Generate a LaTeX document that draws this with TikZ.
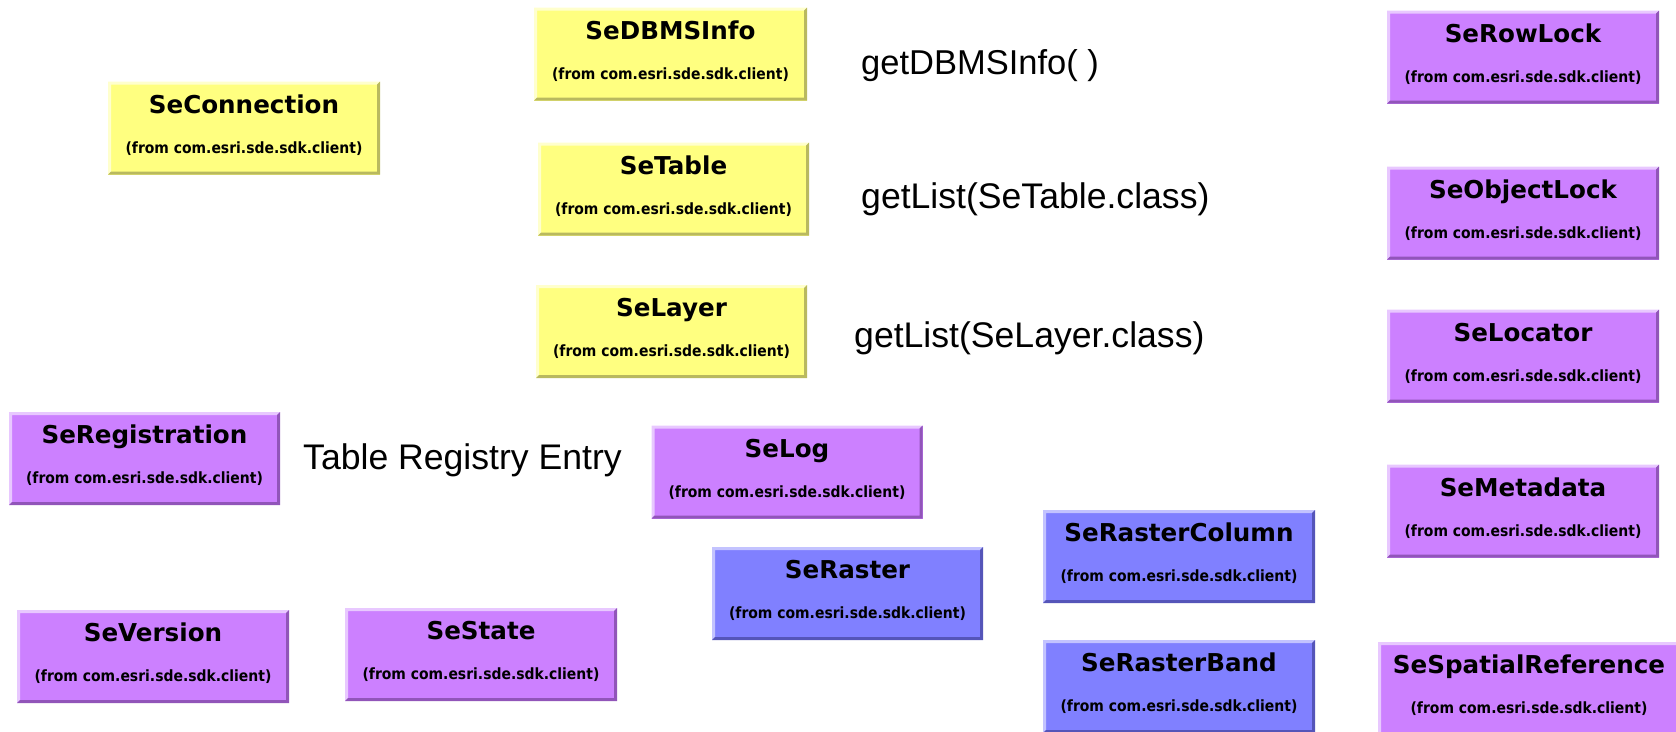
\documentclass[tikz,border=0pt]{standalone}
\usepackage{fontspec}
\setmainfont{DejaVu Sans}
\newfontfamily\clsfont{DejaVu Sans}
\newfontfamily\pkgfont{DejaVu Sans Condensed}
\newfontfamily\lblfont{Liberation Sans}

\definecolor{clsyellow}{RGB}{255,255,128}
\definecolor{clsyellowL}{RGB}{255,255,205}
\definecolor{clsyellowD}{RGB}{185,185,95}
\definecolor{clspurple}{RGB}{204,128,255}
\definecolor{clspurpleL}{RGB}{232,200,255}
\definecolor{clspurpleD}{RGB}{145,85,185}
\definecolor{clsblue}{RGB}{128,128,255}
\definecolor{clsblueL}{RGB}{195,195,255}
\definecolor{clsblueD}{RGB}{85,85,185}

\tikzset{
  bevel light/.store in=\bevlight,
  bevel dark/.store in=\bevdark,
  classbox/.style={
    rectangle, inner sep=0pt, minimum width=272pt, minimum height=93pt,
    path picture={
      \fill[fill=\bevlight]
        (path picture bounding box.south west) -- (path picture bounding box.north west)
        -- (path picture bounding box.north east)
        -- ([xshift=-3pt,yshift=-3pt]path picture bounding box.north east)
        -- ([xshift=3pt,yshift=-3pt]path picture bounding box.north west)
        -- ([xshift=3pt,yshift=3pt]path picture bounding box.south west) -- cycle;
      \fill[fill=\bevdark]
        (path picture bounding box.south west) -- (path picture bounding box.south east)
        -- (path picture bounding box.north east)
        -- ([xshift=-3pt,yshift=-3pt]path picture bounding box.north east)
        -- ([xshift=-3pt,yshift=3pt]path picture bounding box.south east)
        -- ([xshift=3pt,yshift=3pt]path picture bounding box.south west) -- cycle;
    }},
  yellowcls/.style={classbox, fill=clsyellow, bevel light=clsyellowL, bevel dark=clsyellowD},
  purplecls/.style={classbox, fill=clspurple, bevel light=clspurpleL, bevel dark=clspurpleD},
  bluecls/.style={classbox, fill=clsblue, bevel light=clsblueL, bevel dark=clsblueD},
  clstitle/.style={anchor=base, inner sep=0pt, font=\clsfont\bfseries\fontsize{24.6}{28}\selectfont},
  clspkg/.style={anchor=base, inner sep=0pt, font=\pkgfont\bfseries\fontsize{15.5}{18}\selectfont},
  calllabel/.style={anchor=base west, inner sep=0pt, font=\lblfont\fontsize{34.5}{40}\selectfont},
  widelabel/.style={calllabel, font=\lblfont\fontsize{35.6}{40}\selectfont},
}

% class box: name, centre x, centre y, width, style, class name
\newcommand\classbox[6]{%
  \node[#5, minimum width=#4pt] (#1) at (#2,#3) {};
  \node[clstitle] (#1-name) at ([yshift=-32pt]#1.north) {#6};
  \node[clspkg] (#1-pkg) at ([yshift=-72pt]#1.north) {(from com.esri.sde.sdk.client)};
}

\begin{document}
\begin{tikzpicture}[x=1pt,y=-1pt]
\path[use as bounding box] (0,0) rectangle (1676,731);
\clip (0,0) rectangle (1676,731);

% yellow classes
\classbox{conn}{244}{128}{272}{yellowcls}{SeConnection}
\classbox{dbms}{670.5}{54}{273}{yellowcls}{SeDBMSInfo}
\classbox{table}{673.5}{189}{271}{yellowcls}{SeTable}
\classbox{layer}{671.5}{331.5}{271}{yellowcls}{SeLayer}

% purple classes
\classbox{reg}{144.5}{458.5}{271}{purplecls}{SeRegistration}
\classbox{log}{787}{472}{271}{purplecls}{SeLog}
\classbox{version}{153}{656.5}{272}{purplecls}{SeVersion}
\classbox{state}{481}{654.5}{272}{purplecls}{SeState}
\classbox{rowlock}{1523}{57}{272}{purplecls}{SeRowLock}
\classbox{objlock}{1523}{213}{272}{purplecls}{SeObjectLock}
\classbox{locator}{1523}{356}{272}{purplecls}{SeLocator}
\classbox{metadata}{1523}{511}{272}{purplecls}{SeMetadata}
\classbox{spatial}{1529}{688.5}{302}{purplecls}{SeSpatialReference}

% blue classes
\classbox{raster}{847.5}{593.5}{271}{bluecls}{SeRaster}
\classbox{rcol}{1179}{556.5}{272}{bluecls}{SeRasterColumn}
\classbox{rband}{1179}{686.5}{272}{bluecls}{SeRasterBand}

% method / relation labels
\node[calllabel] (lbl-dbms) at (861,74) {getDBMSInfo( )};
\node[widelabel] (lbl-table) at (861,208) {getList(SeTable.class)};
\node[widelabel] (lbl-layer) at (854,347) {getList(SeLayer.class)};
\node[widelabel] (lbl-reg) at (303,469) {Table Registry Entry};
\end{tikzpicture}
\end{document}
